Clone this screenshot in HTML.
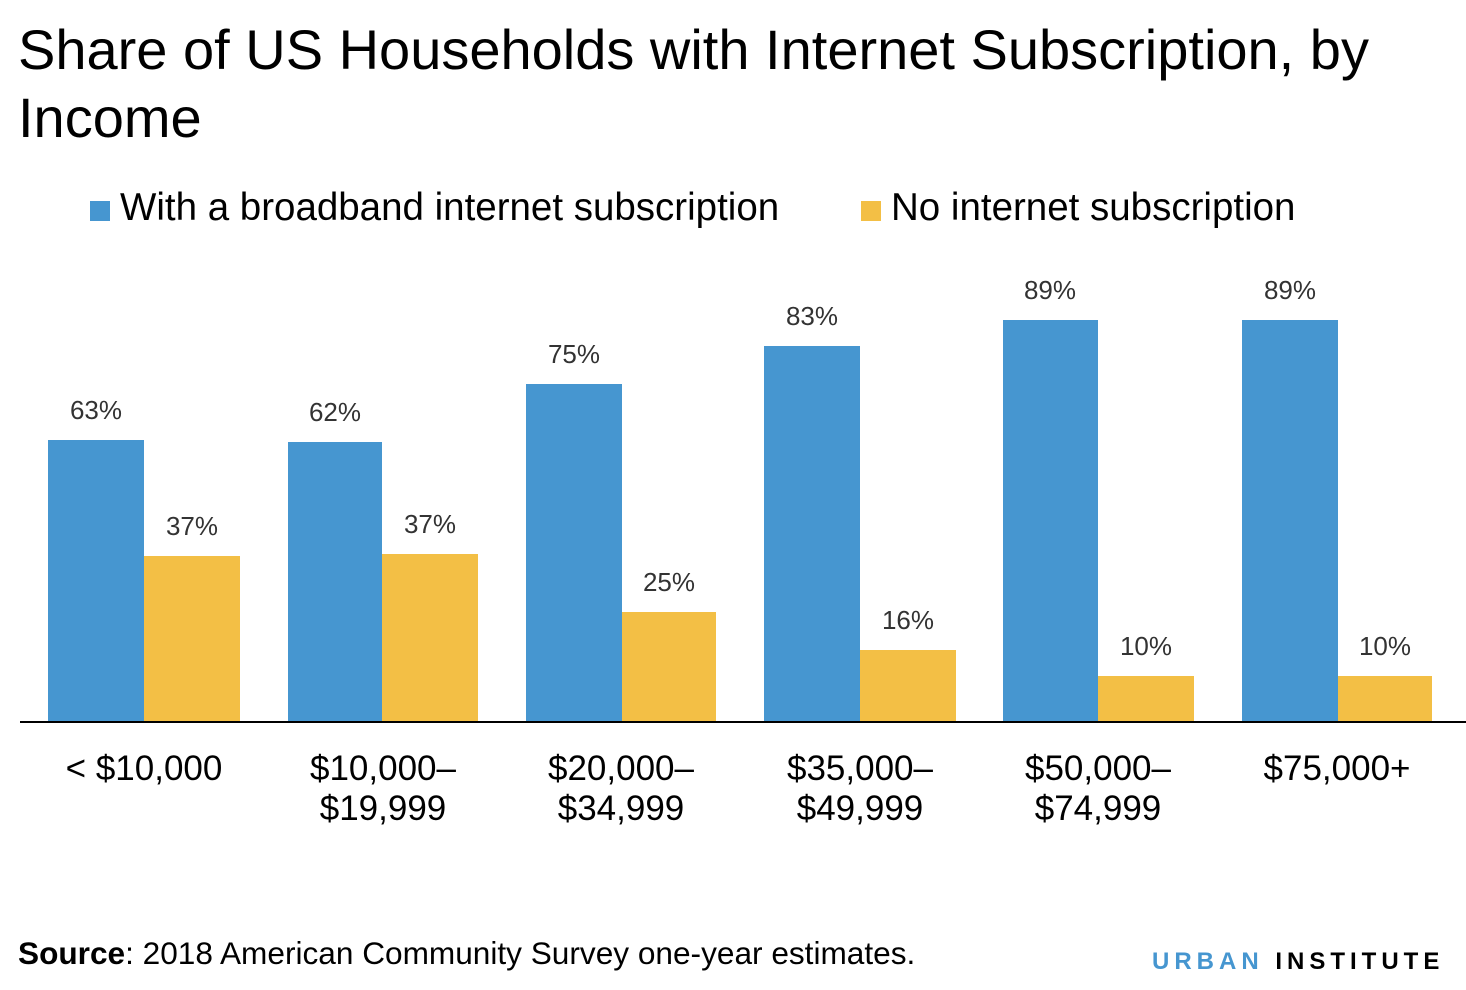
<!DOCTYPE html>
<html><head><meta charset="utf-8"><style>
body{margin:0;width:1466px;height:990px;background:#fff;position:relative;overflow:hidden;font-family:"Liberation Sans",sans-serif;color:#000}
.a{position:absolute;white-space:nowrap}
.b{position:absolute;background:#4696d0}
.y{position:absolute;background:#f3bf45}
.v{position:absolute;font-size:26px;color:#333;width:100px;text-align:center}
.c{position:absolute;font-size:35px;width:240px;text-align:center;line-height:40px}
</style></head><body>
<div class="a" style="left:18px;top:16px;font-size:56px;line-height:68px">Share of US Households with Internet Subscription, by<br>Income</div>
<div class="a" style="left:90px;top:201px;width:20px;height:20px;background:#4696d0"></div>
<div class="a" style="left:120px;top:186px;font-size:38.5px">With a broadband internet subscription</div>
<div class="a" style="left:861px;top:201px;width:20px;height:20px;background:#f3bf45"></div>
<div class="a" style="left:891px;top:186px;font-size:38.5px">No internet subscription</div>

<div class="b" style="left:48px;top:440px;width:96px;height:282px"></div>
<div class="y" style="left:144px;top:556px;width:96px;height:166px"></div>
<div class="b" style="left:288px;top:442px;width:94px;height:280px"></div>
<div class="y" style="left:382px;top:554px;width:96px;height:168px"></div>
<div class="b" style="left:526px;top:384px;width:96px;height:338px"></div>
<div class="y" style="left:622px;top:612px;width:94px;height:110px"></div>
<div class="b" style="left:764px;top:346px;width:96px;height:376px"></div>
<div class="y" style="left:860px;top:650px;width:96px;height:72px"></div>
<div class="b" style="left:1003px;top:320px;width:95px;height:402px"></div>
<div class="y" style="left:1098px;top:676px;width:96px;height:46px"></div>
<div class="b" style="left:1242px;top:320px;width:96px;height:402px"></div>
<div class="y" style="left:1338px;top:676px;width:94px;height:46px"></div>
<div class="a" style="left:20px;top:721px;width:1446px;height:2px;background:#000"></div>

<div class="v" style="left:46px;top:395px">63%</div>
<div class="v" style="left:142px;top:511px">37%</div>
<div class="v" style="left:285px;top:397px">62%</div>
<div class="v" style="left:380px;top:509px">37%</div>
<div class="v" style="left:524px;top:339px">75%</div>
<div class="v" style="left:619px;top:567px">25%</div>
<div class="v" style="left:762px;top:301px">83%</div>
<div class="v" style="left:858px;top:605px">16%</div>
<div class="v" style="left:1000px;top:275px">89%</div>
<div class="v" style="left:1096px;top:631px">10%</div>
<div class="v" style="left:1240px;top:275px">89%</div>
<div class="v" style="left:1335px;top:631px">10%</div>

<div class="c" style="left:24px;top:749px">&lt; $10,000</div>
<div class="c" style="left:263px;top:749px">$10,000–<br>$19,999</div>
<div class="c" style="left:501px;top:749px">$20,000–<br>$34,999</div>
<div class="c" style="left:740px;top:749px">$35,000–<br>$49,999</div>
<div class="c" style="left:978px;top:749px">$50,000–<br>$74,999</div>
<div class="c" style="left:1217px;top:749px">$75,000+</div>

<div class="a" style="left:18px;top:935px;font-size:31.6px"><b>Source</b>: 2018 American Community Survey one-year estimates.</div>
<div class="a" style="left:1152px;top:948px;font-size:24px;font-weight:bold;letter-spacing:5px"><span style="color:#4696d0">URBAN</span> INSTITUTE</div>
</body></html>
